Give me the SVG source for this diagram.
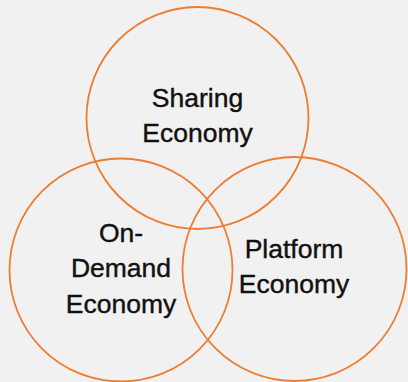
<svg xmlns="http://www.w3.org/2000/svg" width="408" height="382" viewBox="0 0 408 382">
<style>
.c{fill:none;stroke:#ed7d31;stroke-width:1.8}
.t{font-family:"Liberation Sans",Arial,sans-serif;font-size:26.5px;fill:#111;stroke:#111;stroke-width:0.4;text-anchor:middle}
</style>
<rect width="408" height="382" fill="#f1f1f1"/>
<g id="sharing">
<circle class="c" cx="197.5" cy="118" r="111"/>
<text class="t" x="197.5" y="107">Sharing</text>
<text class="t" x="197.5" y="142">Economy</text>
</g>
<g id="ondemand">
<circle class="c" cx="121" cy="270" r="111.5"/>
<text class="t" x="121" y="242">On-</text>
<text class="t" x="121" y="277">Demand</text>
<text class="t" x="121" y="313">Economy</text>
</g>
<g id="platform">
<circle class="c" cx="294.5" cy="269" r="112"/>
<text class="t" x="294" y="258">Platform</text>
<text class="t" x="294" y="293">Economy</text>
</g>
<g id="connectors"/>
</svg>
